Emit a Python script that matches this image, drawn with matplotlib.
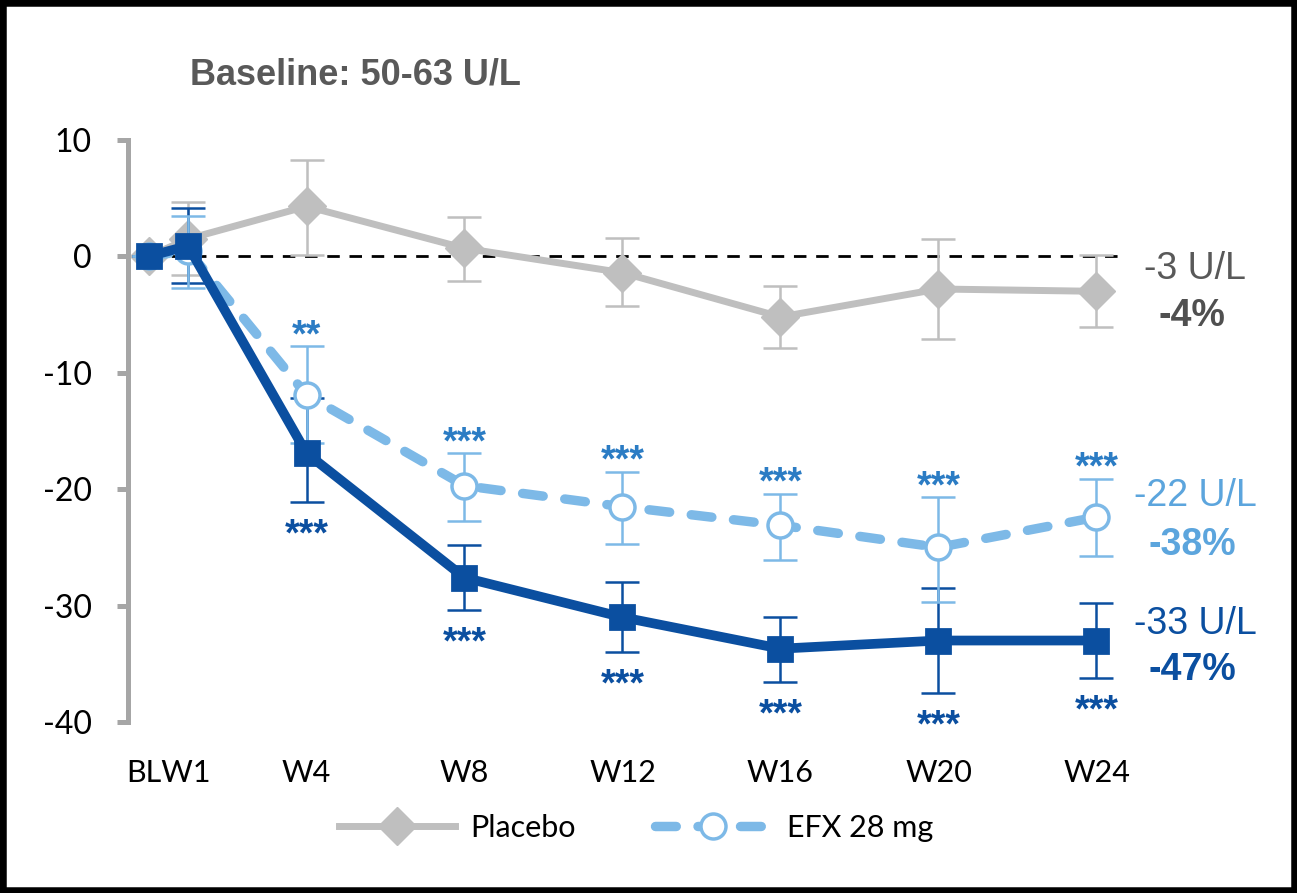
import matplotlib
matplotlib.use("Agg")
import matplotlib.pyplot as plt
from matplotlib.patches import Rectangle
from matplotlib.lines import Line2D

# ---------------- data ----------------
weeks = [0, 1, 4, 8, 12, 16, 20, 24]
tick_pos = [0.5, 4, 8, 12, 16, 20, 24]
tick_labels = ["BLW1", "W4", "W8", "W12", "W16", "W20", "W24"]

placebo = [0, 1.5, 4.3, 0.7, -1.4, -5.2, -2.8, -3.0]
placebo_hi = [0, 4.7, 8.3, 3.4, 1.6, -2.5, 1.5, 0.1]
placebo_lo = [0, -1.6, 0.1, -2.1, -4.3, -7.9, -7.1, -6.1]

efx28 = [0, 0.5, -11.9, -19.7, -21.5, -23.1, -25.0, -22.4]
efx28_hi = [0, 3.5, -7.7, -16.9, -18.5, -20.4, -20.7, -19.1]
efx28_lo = [0, -2.7, -16.0, -22.7, -24.7, -26.1, -29.7, -25.7]

efx50 = [0, 0.9, -16.9, -27.6, -31.0, -33.7, -33.0, -33.0]
efx50_hi = [0, 4.2, -12.2, -24.8, -28.0, -31.0, -28.5, -29.8]
efx50_lo = [0, -2.3, -21.1, -30.4, -34.0, -36.6, -37.5, -36.2]

stars28 = ["", "", "**", "***", "***", "***", "***", "***"]
stars50 = ["", "", "***", "***", "***", "***", "***", "***"]

end_abs = ["-3 U/L", "-22 U/L", "-33 U/L"]
end_pct = ["-4%", "-38%", "-47%"]

title_text = "Baseline: 50-63 U/L"
legend_labels = ["Placebo", "EFX 28 mg"]

# ---------------- style ----------------
C_PLA = "#BFBFBF"
C_L = "#7DB9E7"
C_D = "#0B4FA0"
C_STAR_L = "#2B7CC4"
C_TXT_L = "#5CA5DD"
C_GRAY_T = "#595959"

W, H = 1297, 893
fig = plt.figure(figsize=(W / 100, H / 100), dpi=100)
fig.patch.set_facecolor("white")

ax_l, ax_r, ax_t, ax_b = 128, 1280, 140, 722
ax = fig.add_axes([ax_l / W, (H - ax_b) / H, (ax_r - ax_l) / W, (ax_b - ax_t) / H])
ppw = 39.5
x0 = 148.5
ax.set_xlim((ax_l - x0) / ppw, (ax_r - x0) / ppw)
ax.set_ylim(-40, 10)

for s in ["top", "right", "bottom"]:
    ax.spines[s].set_visible(False)
ax.spines["left"].set_color("#A6A6A6")
ax.spines["left"].set_linewidth(3.6)
ax.spines["left"].set_bounds(-40, 10)

ax.set_yticks([10, 0, -10, -20, -30, -40])
ax.set_yticklabels(["10", "0", "-10", "-20", "-30", "-40"],
                   fontfamily="Lato", fontsize=23)
ax.tick_params(axis="y", direction="out", length=8, width=3.6, color="#A6A6A6",
               pad=18)
ax.set_xticks(tick_pos)
ax.set_xticklabels(tick_labels, fontfamily="Lato", fontsize=22)
ax.tick_params(axis="x", length=0, pad=27)

# zero reference line
ax.plot([0, 24.6], [0, 0], color="black", lw=2.0, linestyle=(0, (4.5, 3.5)),
        zorder=1)


def yerr(v, hi, lo):
    return [[a - b for a, b in zip(v, lo)], [b - a for a, b in zip(v, hi)]]


# placebo
ax.errorbar(weeks, placebo, yerr=yerr(placebo, placebo_hi, placebo_lo),
            fmt="none", ecolor=C_PLA, elinewidth=1.8, capsize=12, capthick=1.8,
            zorder=2)
ax.plot(weeks, placebo, color=C_PLA, lw=5, marker="D", ms=19,
        mfc=C_PLA, mec=C_PLA, zorder=2.5)

# error bars of the two EFX series
ax.errorbar(weeks, efx50, yerr=yerr(efx50, efx50_hi, efx50_lo),
            fmt="none", ecolor=C_D, elinewidth=1.8, capsize=12, capthick=1.8,
            zorder=3)
ax.errorbar(weeks, efx28, yerr=yerr(efx28, efx28_hi, efx28_lo),
            fmt="none", ecolor=C_L, elinewidth=1.8, capsize=12, capthick=1.8,
            zorder=3.2)

# EFX 28 (light)
ax.plot(weeks, efx28, color=C_L, lw=6.8, dashes=(2.2, 2.3),
        dash_capstyle="round", marker="o", ms=18, mfc="white", mec=C_L,
        mew=2.5, zorder=4)

# EFX 50 (dark)
ax.plot(weeks, efx50, color=C_D, lw=7, marker="s", ms=17, mfc=C_D, mec=C_D,
        mew=2, solid_joinstyle="round", zorder=5)

# significance stars
for x, hi, s in zip(weeks, efx28_hi, stars28):
    if s:
        ax.annotate(s, (x, hi), xytext=(0, 0), textcoords="offset points",
                    ha="center", va="baseline", color=C_STAR_L, fontsize=27,
                    fontweight="bold", fontfamily="Liberation Sans", zorder=6)
for x, lo, s in zip(weeks, efx50_lo, stars50):
    if s:
        ax.annotate(s, (x, lo), xytext=(0, -11), textcoords="offset points",
                    ha="center", va="top", color=C_D, fontsize=27,
                    fontweight="bold", fontfamily="Liberation Sans", zorder=6)

# end labels
ends = [placebo[-1], efx28[-1], efx50[-1]]
abs_cols = [C_GRAY_T, C_TXT_L, C_D]
pct_cols = ["#505050", C_TXT_L, C_D]
abs_off = [16, 15, 12]
pct_off = [-18, -20, -21]
for yv, a, p, ca, cp, oa, op in zip(ends, end_abs, end_pct, abs_cols, pct_cols,
                                   abs_off, pct_off):
    ax.annotate(a, (weeks[-1], yv), xytext=(71, oa), textcoords="offset points",
                ha="center", va="center", color=ca, fontsize=27,
                fontfamily="Liberation Sans")
    ax.annotate(p, (weeks[-1], yv), xytext=(69, op), textcoords="offset points",
                ha="center", va="center", color=cp, fontsize=27,
                fontweight="bold", fontfamily="Liberation Sans")

# title
fig.text(190 / W, 1 - 75 / H, title_text, ha="left", va="center",
         fontsize=26, fontweight="bold", color=C_GRAY_T,
         fontfamily="Liberation Sans")

# legend
h1 = Line2D([], [], color=C_PLA, lw=5, marker="D", ms=19, mfc=C_PLA, mec=C_PLA)
h2 = Line2D([], [], color=C_L, lw=6.8, dashes=(2.2, 2.3), dash_capstyle="round",
            marker="o", ms=18, mfc="white", mec=C_L, mew=2.5)
leg = fig.legend([h1, h2], legend_labels, loc="center",
                 bbox_to_anchor=(636 / W, 1 - 828 / H), ncol=2, frameon=False,
                 prop={"family": "Lato", "size": 22}, handlelength=3.8,
                 handletextpad=0.5, columnspacing=2.6)

# border
fig.patches.append(Rectangle((0, 0), 1, 1, transform=fig.transFigure,
                             fill=False, edgecolor="black", linewidth=9,
                             zorder=10))

fig.savefig("out.png", dpi=100)
